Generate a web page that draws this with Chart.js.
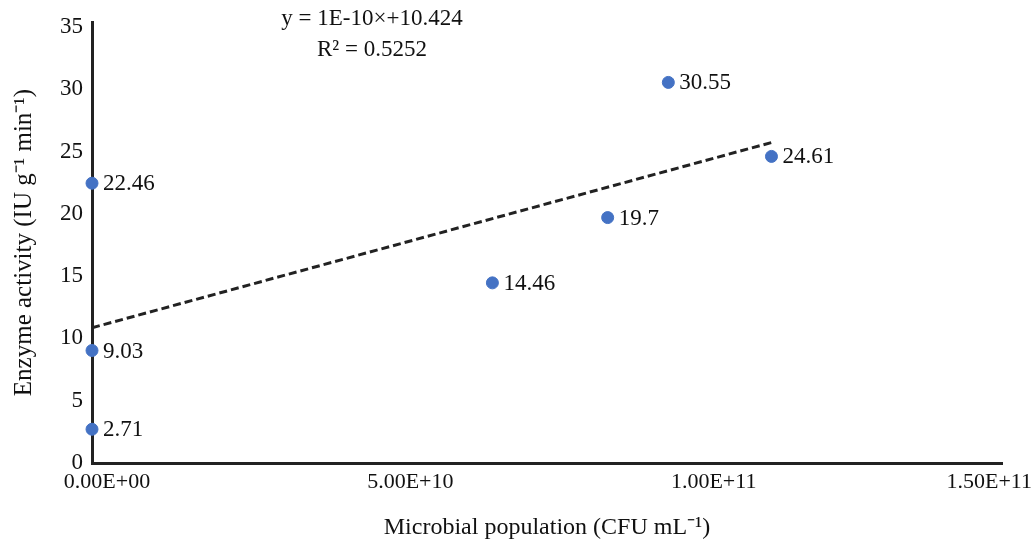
<!DOCTYPE html>
<html>
<head>
<meta charset="utf-8">
<script src="https://cdn.jsdelivr.net/npm/chart.js@4.4.0/dist/chart.umd.min.js"></script>
<style>
  html, body { margin: 0; padding: 0; background: #fff; }
  #wrap { width: 1034px; height: 542px; position: relative; }
</style>
</head>
<body>
<div id="wrap"><canvas id="myChart"></canvas></div>
<script>
// microbial population (CFU/mL) and enzyme activity
const populations = [0, 0, 0, 6.6e10, 8.5e10, 9.5e10, 1.12e11];
const activities = [22.46, 9.03, 2.71, 14.46, 19.7, 30.55, 24.61];
const pointLabels = ['22.46', '9.03', '2.71', '14.46', '19.7', '30.55', '24.61'];
const xTicks = [0, 5e10, 1e11, 1.5e11];
const yTicks = [0, 5, 10, 15, 20, 25, 30, 35];
const equationLines = ['y = 1E-10\u00d7+10.424', 'R\u00b2 = 0.5252'];

// least squares fit for the trendline
function fit(xs, ys) {
    var n = xs.length, mx = 0, my = 0;
    for (var i = 0; i < n; i++) { mx += xs[i]; my += ys[i]; }
    mx /= n; my /= n;
    var sxy = 0, sxx = 0;
    for (var i = 0; i < n; i++) {
        sxy += (xs[i] - mx) * (ys[i] - my);
        sxx += (xs[i] - mx) * (xs[i] - mx);
    }
    var b = sxy / sxx;
    return { slope: b, intercept: my - b * mx };
}
const line = fit(populations, activities);
const xEnd = Math.max.apply(null, populations);
const trend = [
    { x: 0, y: line.intercept },
    { x: xEnd, y: line.intercept + line.slope * xEnd }
];

function sci(v) {
    var s = v.toExponential(2).toUpperCase();   // 1.50E+11
    var m = s.match(/^(.*E[+-])(\d+)$/);
    if (m && m[2].length < 2) s = m[1] + '0' + m[2];
    return s;
}

const serif = "'Liberation Serif', 'Times New Roman', serif";

const labelPlugin = {
    id: 'pointText',
    afterDatasetsDraw(chart) {
        var ctx = chart.ctx;
        var meta = chart.getDatasetMeta(1);
        ctx.save();
        ctx.font = '23px ' + serif;
        ctx.fillStyle = '#111';
        ctx.textBaseline = 'middle';
        ctx.textAlign = 'left';
        meta.data.forEach(function (pt, i) {
            ctx.fillText(pointLabels[i], pt.x + 11, pt.y + 1);
        });
        // equation
        ctx.textAlign = 'center';
        ctx.fillText(equationLines[0], 372, 19);
        ctx.fillText(equationLines[1], 372, 50);

        // x tick labels, shifted a little right like the original, kept inside the canvas
        var xs = chart.scales.x;
        ctx.font = '22px ' + serif;
        ctx.textBaseline = 'top';
        xTicks.forEach(function (v) {
            var txt = sci(v);
            var w = ctx.measureText(txt).width;
            var cx = Math.min(xs.getPixelForValue(v) + 15, chart.width - w / 2 - 2);
            ctx.fillText(txt, cx, xs.top + 8);
        });
        ctx.restore();
    }
};

new Chart(document.getElementById('myChart'), {
    type: 'scatter',
    data: {
        datasets: [{
            type: 'line',
            data: trend,
            borderColor: '#222',
            borderWidth: 3,
            borderDash: [8, 4],
            pointRadius: 0,
            fill: false
        }, {
            data: populations.map(function (x, i) { return { x: x, y: activities[i] }; }),
            backgroundColor: '#4472C4',
            borderColor: '#4472C4',
            pointRadius: 6,
            pointHoverRadius: 6,
            clip: false
        }]
    },
    options: {
        responsive: true,
        maintainAspectRatio: false,
        animation: false,
        layout: { padding: { top: 22, right: 32, left: 0, bottom: 0 } },
        plugins: { legend: { display: false }, tooltip: { enabled: false } },
        scales: {
            x: {
                type: 'linear',
                min: 0,
                max: 1.5e11,
                grid: { display: false },
                border: { display: true, color: '#222', width: 3 },
                afterBuildTicks: function (s) { s.ticks = xTicks.map(function (v) { return { value: v }; }); },
                afterFit: function (s) { s.height = 79; s.paddingLeft = 0; s.paddingRight = 0; },
                ticks: { display: false },
                title: {
                    display: true,
                    text: 'Microbial population (CFU mL\u207b\u00b9)',
                    color: '#111',
                    font: { family: serif, size: 24 },
                    padding: { top: 0, bottom: 0 }
                }
            },
            y: {
                min: 0,
                max: 35.4,
                grid: { display: false },
                border: { display: true, color: '#222', width: 3 },
                afterBuildTicks: function (s) { s.ticks = yTicks.map(function (v) { return { value: v }; }); },
                afterFit: function (s) { s.width = 92; s.paddingTop = 0; s.paddingBottom = 0; },
                ticks: {
                    color: '#111',
                    padding: 1,
                    font: { family: serif, size: 23 }
                },
                title: {
                    display: true,
                    text: 'Enzyme activity (IU g\u207b\u00b9 min\u207b\u00b9)',
                    color: '#111',
                    font: { family: serif, size: 25 },
                    padding: { top: 9, bottom: 4 }
                }
            }
        }
    },
    plugins: [labelPlugin]
});
</script>
</body>
</html>
